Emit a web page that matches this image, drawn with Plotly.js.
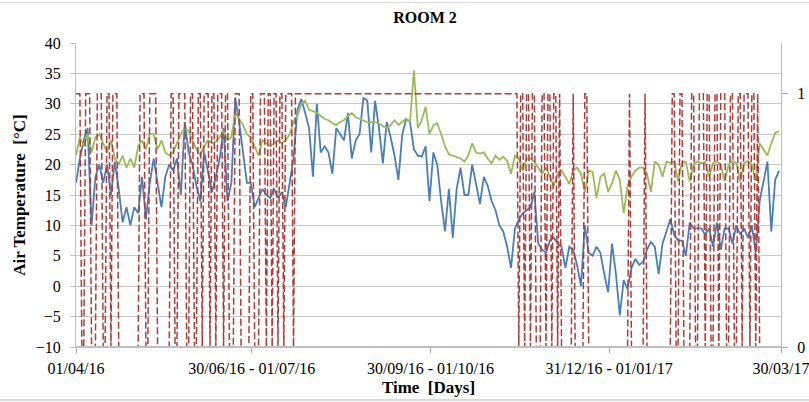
<!DOCTYPE html>
<html><head><meta charset="utf-8">
<script src="https://cdn.plot.ly/plotly-3.0.1.min.js"></script>
<style>
html,body{margin:0;padding:0;background:#fff;overflow:hidden}
#chart{width:809px;height:402px;position:relative}
.edge{position:absolute;left:0;width:809px;background:#d9d9d9;height:1px}
</style></head><body>
<div id="chart"></div>
<div class="edge" style="top:2px"></div>
<div class="edge" style="top:399px;height:2px"></div>
<script>
// Day index 0 = 01/04/16, sampled every 2 days
const sampleStep = 2;
const blueTemp = [
  17, 21, 24, 26, 10, 18, 20, 17, 20, 15,
  20.5, 16, 10.5, 13, 10, 13, 12, 18, 11, 17,
  21, 17, 13, 18, 20, 19, 21, 15, 27, 22,
  20, 16.5, 14, 22, 19, 15.5, 18, 21, 26, 14,
  17, 31, 27, 22, 17, 17, 13, 14.5, 16, 15,
  14.5, 16, 14.5, 15.5, 13, 17, 21, 29, 30.8, 28.5,
  26, 18, 30, 22, 23, 22, 18.5, 26, 25, 24,
  28.5, 21, 24, 25, 31, 30.5, 22, 30.5, 26, 20.2,
  27, 24.5, 21.5, 17.5, 25, 27.5, 27, 22.5, 21.5, 21.3,
  23, 14, 22, 20, 14, 9, 16, 8, 16, 19.5,
  15, 15, 20, 17, 13.5, 18, 16.5, 14, 12.5, 10,
  9, 6.5, 3, 9.5, 11, 12, 12.5, 13, 15.5, 7,
  6, 5.5, 7.5, 8, 7, 6.5, 3, 6.5, 6, 3.5,
  0, 10, 5.5, 5, 6.5, 5.5, 2, -1, 7, 2,
  -4.8, 1, -0.5, 3, 4.5, 3.5, 4, 6, 7.3, 6.5,
  2, 7, 9, 11, 8.5, 7.5, 7.5, 5, 10.5, 9.5,
  9.5, 9.5, 8.5, 9.5, 6.5, 10.5, 6, 9.5, 9.5, 7,
  10, 8.5, 9.5, 8, 10, 5.5, 14, 17, 20.5, 9,
  17.5, 19
];
const greenTemp = [
  21.5, 24.5, 23, 25, 22, 24.5, 25, 23.5, 22, 24,
  21, 20, 21.5, 19.5, 21, 19.5, 23, 24, 22.5, 25,
  25, 22.5, 24, 22, 21.5, 22, 23.5, 25, 26, 25.5,
  24, 22.5, 21.5, 23, 24, 23.5, 23.8, 24.5, 25.5, 24,
  24.5, 28.5, 27.5, 26.5, 25, 24.5, 23, 21.5, 24, 23.5,
  23, 23.5, 24, 23.5, 24, 25, 27, 28, 30, 30.5,
  29, 28.8, 28.5, 28, 27.5, 27.3, 26.8, 26.5, 27, 27.3,
  28, 28.5, 27.8, 27.5, 27.2, 27, 27, 27, 26.8, 26.3,
  26, 26.5, 27.3, 26.5, 27, 27.5, 27, 35.5, 26, 27.3,
  29.5, 25, 26.5, 26.8, 25, 23, 21.7, 21.5, 21.2, 21,
  20.5, 21.5, 23.5, 22, 21.8, 22, 21, 20.2, 21.5, 20.8,
  21.3, 20.6, 18.5, 21.5, 21, 19, 21, 21, 20.5, 19.5,
  18.5, 19.5, 18, 16.5, 18.5, 19, 18, 16.8, 19, 19.5,
  18.5, 15.5, 19, 18.8, 14.5, 18, 18.5, 15.5, 17, 19,
  17.5, 12, 16.5, 18, 19, 19.5, 19.5, 18.5, 15.5, 20.5,
  20, 18, 20.5, 20.3, 20.5, 17.3, 20.3, 20.5, 17.2, 20,
  20.5, 20.2, 20.5, 18, 20.2, 20.5, 20, 17.3, 20, 20.6,
  20.2, 17.3, 20.2, 20.6, 20, 17.3, 23.5, 22.5, 21.5, 23.5,
  25.2, 25.5
];
// On/off state (secondary axis): inclusive day ranges where value = 1
const redOnStart = [0, 5, 11, 16, 19, 33, 38, 49, 53, 59, 63, 66, 70, 73, 77, 82, 90, 95, 99, 102, 105, 108, 113,
  229, 232, 235, 240, 243, 246, 249, 256, 262, 285, 293, 307, 311, 317, 321, 325, 329, 332, 337, 341, 344, 348, 351];
const redOnEnd   = [2, 7, 13, 17, 21, 35, 41, 50, 56, 60, 64, 68, 71, 75, 78, 84, 91, 97, 100, 103, 106, 111, 227,
  230, 233, 236, 241, 244, 247, 249, 256, 263, 285, 293, 308, 312, 318, 323, 326, 330, 334, 338, 342, 346, 349, 351];
const lastDay = 363;
const tickDays = [0, 90.5, 182.5, 274.5, 363];
const tickLabels = ['01/04/16', '30/06/16 - 01/07/16', '30/09/16 - 01/10/16', '31/12/16 - 01/01/17', '30/03/17'];
const yTicks = [-10, -5, 0, 5, 10, 15, 20, 25, 30, 35, 40];
const y2Ticks = [0, 1];

const sampleDays = blueTemp.map((_, i) => i * sampleStep);
const redDays = [], redState = [];
for (let d = 0; d <= lastDay; d++) {
  let v = 0;
  for (let i = 0; i < redOnStart.length; i++) if (d >= redOnStart[i] && d <= redOnEnd[i]) v = 1;
  redDays.push(d); redState.push(v);
}

const serif = 'Liberation Serif, Times New Roman, serif';
const traces = [
  {x: sampleDays, y: blueTemp, mode: 'lines', line: {color: '#4a7ebb', width: 1.8}, hoverinfo: 'none'},
  {x: sampleDays, y: greenTemp, mode: 'lines', line: {color: '#9bbb59', width: 1.8}, hoverinfo: 'none'},
  {x: redDays, y: redState, yaxis: 'y2', mode: 'lines', line: {color: '#ab3d3b', width: 1.5, dash: '7px,3px'}, hoverinfo: 'none'}
];
const layout = {
  width: 809, height: 402,
  margin: {l: 76, r: 28, t: 43, b: 55},
  paper_bgcolor: '#fff', plot_bgcolor: '#fff',
  showlegend: false,
  font: {family: serif, color: '#000', size: 16},
  title: {text: '<b>ROOM 2</b>', font: {size: 16, family: serif, color: '#000'},
          x: 0.495, xref: 'paper', y: 1 - 17/402, yref: 'container', yanchor: 'middle'},
  xaxis: {range: [0, lastDay], tickmode: 'array', tickvals: tickDays, ticktext: tickLabels,
          ticks: 'outside', ticklen: 5, tickcolor: '#a6a6a6', showgrid: false, zeroline: false,
          showline: true, linecolor: '#bfbfbf', linewidth: 1, tickfont: {size: 16, family: serif},
          ticklabelstandoff: 2, ticklabeloverflow: 'allow',
          title: {text: '<b>Time\u00A0\u00A0[Days]</b>', font: {size: 17, family: serif}, standoff: 4}},
  yaxis: {range: [-10, 40], tickmode: 'array', tickvals: yTicks, ticks: 'outside', ticklen: 5,
          tickcolor: '#bfbfbf', gridcolor: '#c8c8c8', gridwidth: 1, zeroline: false,
          showline: true, linecolor: '#bfbfbf', linewidth: 1, tickfont: {size: 16, family: serif},
          ticklabelstandoff: 6,
          title: {text: '<b>Air Temperature\u00A0\u00A0[°C]</b>', font: {size: 17, family: serif}, standoff: 5}},
  yaxis2: {range: [0, 1.2], overlaying: 'y', side: 'right', tickmode: 'array', tickvals: y2Ticks,
           ticks: 'outside', ticklen: 6, tickcolor: '#a6a6a6', showgrid: false, zeroline: false,
           showline: true, linecolor: '#bfbfbf', linewidth: 1, tickfont: {size: 16, family: serif},
           ticklabelstandoff: 6},
  shapes: [{type: 'line', xref: 'paper', x0: 0, x1: 1, yref: 'y', y0: -10, y1: -10,
            line: {color: '#bfbfbf', width: 2}, layer: 'above'}]
};
Plotly.newPlot('chart', traces, layout, {staticPlot: true, displayModeBar: false});
</script>
</body></html>
